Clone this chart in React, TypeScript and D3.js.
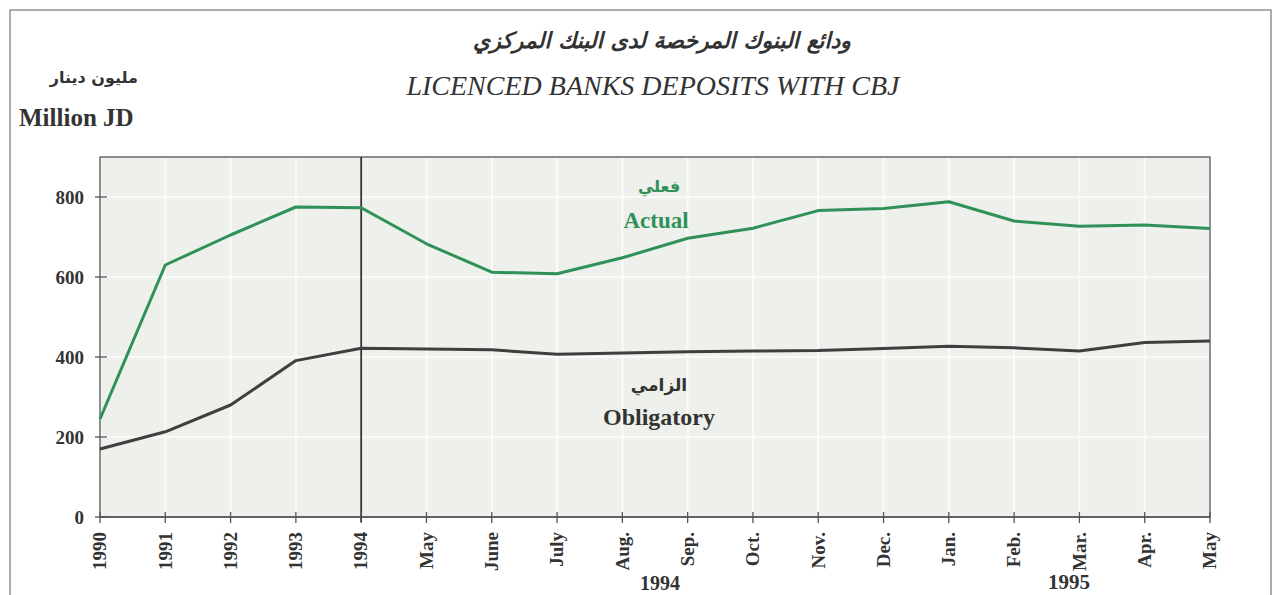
import React from 'react'
import * as d3 from 'd3'

const periods = ['1990', '1991', '1992', '1993', '1994', 'May', 'June', 'July', 'Aug.', 'Sep.', 'Oct.', 'Nov.', 'Dec.', 'Jan.', 'Feb.', 'Mar.', 'Apr.', 'May']
const actual = [245, 630, 705, 775, 773, 683, 612, 608, 648, 697, 722, 766, 771, 788, 740, 727, 730, 721]
const obligatory = [170, 213, 280, 391, 422, 420, 418, 407, 410, 413, 415, 416, 421, 427, 423, 415, 436, 440]
const yTicks = [0, 200, 400, 600, 800]
const yGrid = [200, 400, 600, 800]

const width = 1274
const height = 595
const marginLeft = 100
const marginRight = 64
const marginTop = 157
const marginBottom = 78

const serif = '"Liberation Serif", "Times New Roman", serif'
const arabic = '"DejaVu Sans", sans-serif'
const green = '#2f9158'
const dark = '#3f3f3f'
const ink = '#333'

export default function App() {
  const keys = periods.map((_, i) => String(i))
  const x = d3.scalePoint().domain(keys).range([marginLeft, width - marginRight])
  const y = d3.scaleLinear().domain([0, 900]).range([height - marginBottom, marginTop])

  const line = d3
    .line<number>()
    .x((_, i) => x(String(i)) as number)
    .y((d) => y(d))

  const x0 = marginLeft
  const x1 = width - marginRight
  const yb = y(0)
  const yt = y(900)
  const x1994 = x('4') as number

  return (
    <svg
      width={width}
      height={height}
      viewBox={`0 0 ${width} ${height}`}
      style={{ position: 'absolute', left: 0, top: 0, background: '#fff' }}
      fontFamily={serif}
    >
      {/* outer frame */}
      <rect x={10} y={10} width={1261} height={620} fill="none" stroke="#777" strokeWidth={1.2} />

      {/* titles */}
      <text x={662} y={48} textAnchor="middle" fontSize={22} fontStyle="italic" fontWeight="bold" fill={ink} fontFamily={arabic}>
        ودائع البنوك المرخصة لدى البنك المركزي
      </text>
      <text x={653} y={95} textAnchor="middle" fontSize={28} fontStyle="italic" fill={ink}>
        LICENCED BANKS DEPOSITS WITH CBJ
      </text>
      <text x={138} y={83} textAnchor="end" fontSize={16} fontWeight="bold" fill={ink} fontFamily={arabic}>
        مليون دينار
      </text>
      <text x={19} y={126} fontSize={25} fontWeight="bold" fill={ink}>
        Million JD
      </text>

      {/* plot background */}
      <rect x={x0} y={yt} width={x1 - x0} height={yb - yt} fill="#eef0ec" />

      {/* grid */}
      {keys.map((k) => (
        <line key={'gx' + k} x1={x(k)} x2={x(k)} y1={yt} y2={yb} stroke="#fafbf8" strokeWidth={2} />
      ))}
      {yGrid.map((v) => (
        <line key={'gy' + v} x1={x0} x2={x1} y1={y(v)} y2={y(v)} stroke="#fafbf8" strokeWidth={2} />
      ))}

      {/* plot border */}
      <rect x={x0} y={yt} width={x1 - x0} height={yb - yt} fill="none" stroke="#555" strokeWidth={1.3} />

      {/* 1994 divider */}
      <line x1={x1994} x2={x1994} y1={yt} y2={yb + 5} stroke="#333" strokeWidth={1.8} />

      {/* y axis */}
      {yTicks.map((v) => (
        <g key={'yt' + v}>
          <line x1={x0 - 5} x2={x0 + 7} y1={y(v)} y2={y(v)} stroke="#555" strokeWidth={1.3} />
          <text x={84} y={y(v)} dy="0.35em" textAnchor="end" fontSize={19} fontWeight="bold" fill={ink}>
            {v}
          </text>
        </g>
      ))}

      {/* x axis */}
      <line x1={x0} x2={x1} y1={yb} y2={yb} stroke="#555" strokeWidth={1.6} />
      {keys.map((k, i) => (
        <g key={'xt' + k}>
          <line x1={x(k)} x2={x(k)} y1={yb - 5} y2={yb + 6} stroke="#555" strokeWidth={1.3} />
          <text
            transform={`translate(${x(k)},${yb + 15}) rotate(-90)`}
            dy="0.33em"
            textAnchor="end"
            fontSize={19}
            fontWeight="bold"
            fill={ink}
          >
            {periods[i]}
          </text>
        </g>
      ))}
      <text x={660} y={590} textAnchor="middle" fontSize={20} fontWeight="bold" fill={ink}>
        1994
      </text>
      <text x={1069} y={589} textAnchor="middle" fontSize={21} fontWeight="bold" fill={ink}>
        1995
      </text>

      {/* series */}
      <path d={line(obligatory) ?? ''} fill="none" stroke={dark} strokeWidth={3} strokeLinejoin="round" />
      <path d={line(actual) ?? ''} fill="none" stroke={green} strokeWidth={3} strokeLinejoin="round" />

      {/* series labels */}
      <text x={659} y={192} textAnchor="middle" fontSize={16} fontWeight="bold" fill={green} fontFamily={arabic}>
        فعلي
      </text>
      <text x={656} y={228} textAnchor="middle" fontSize={23} fontWeight="bold" fill={green}>
        Actual
      </text>
      <text x={659} y={391} textAnchor="middle" fontSize={17} fontWeight="bold" fill={ink} fontFamily={arabic}>
        الزامي
      </text>
      <text x={659} y={425} textAnchor="middle" fontSize={24} fontWeight="bold" fill={ink}>
        Obligatory
      </text>
    </svg>
  )
}
